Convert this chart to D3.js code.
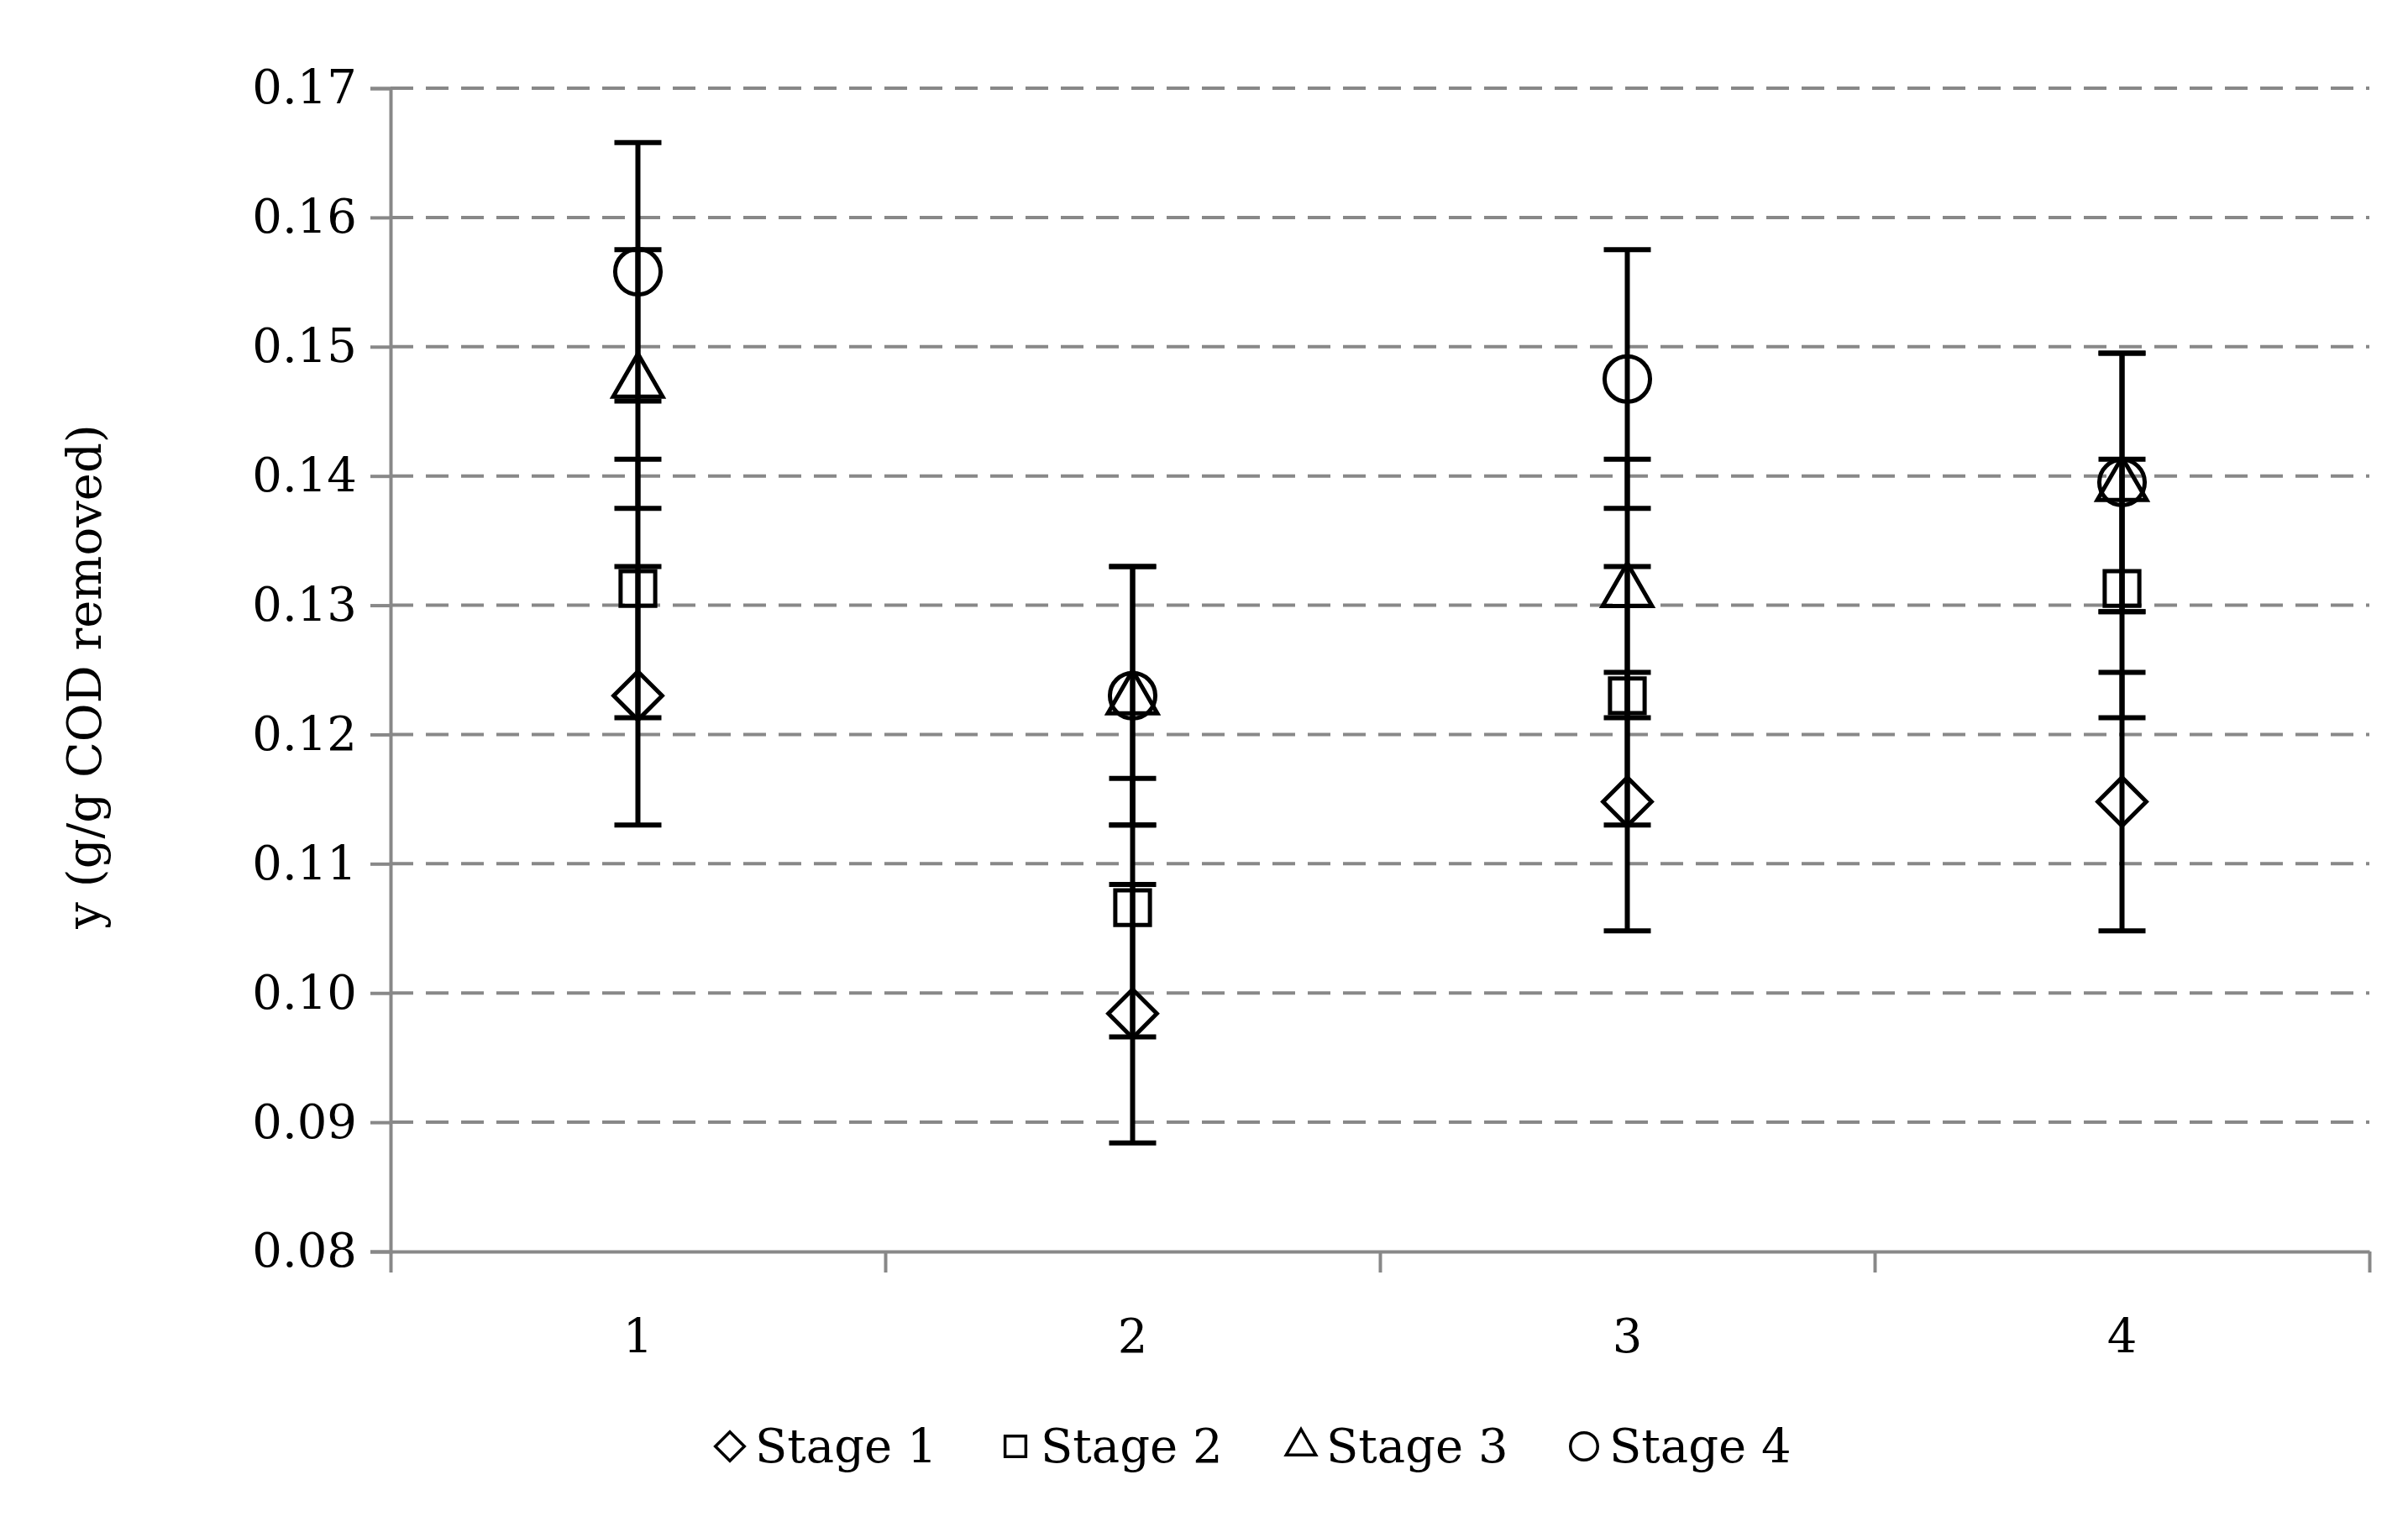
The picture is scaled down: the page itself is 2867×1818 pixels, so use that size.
<!DOCTYPE html>
<html><head><meta charset="utf-8">
<script src="https://cdn.jsdelivr.net/npm/d3@7"></script>
<style>body{margin:0;background:#fff}</style></head>
<body><svg id="c" width="2867" height="1818"></svg>
<script>
const categories = [1, 2, 3, 4];
const seriesNames = ["Stage 1", "Stage 2", "Stage 3", "Stage 4"];
const stage1 = [0.1230, 0.0984, 0.1148, 0.1148];
const stage2 = [0.1313, 0.1066, 0.1230, 0.1313];
const stage3 = [0.1475, 0.1230, 0.1313, 0.1395];
const stage4 = [0.1558, 0.1230, 0.1475, 0.1395];
const errorBar = 0.01;
const yTicks = [0.08, 0.09, 0.10, 0.11, 0.12, 0.13, 0.14, 0.15, 0.16, 0.17];
const yTitle = "y (g/g COD removed)";

const series = [stage1, stage2, stage3, stage4];
const symbols = [d3.symbolDiamond, d3.symbolSquare, d3.symbolTriangle, d3.symbolCircle];
const svg = d3.select("#c");
const font = "'DejaVu Serif',serif";
const FS = 56;
const L = 465, R = 2821, T = 105, B = 1490;
const x = d3.scaleLinear().domain([0.5, 4.5]).range([L, R]);
const y = d3.scaleLinear().domain([0.08, 0.17]).range([B, T]);

svg.append("g").selectAll("line").data(yTicks.slice(1)).join("line")
  .attr("x1", L).attr("x2", R).attr("y1", d => y(d)).attr("y2", d => y(d))
  .attr("stroke", "#888").attr("stroke-width", 4).attr("stroke-dasharray", "27,15");

const ya = svg.append("g").attr("transform", `translate(${L},0)`)
  .call(d3.axisLeft(y).tickValues(yTicks).tickFormat(d3.format(".2f")).tickSize(24).tickPadding(16));
ya.select(".domain").attr("stroke", "#888").attr("stroke-width", 4);
ya.selectAll(".tick line").attr("stroke", "#888").attr("stroke-width", 4);
ya.selectAll("text").attr("font-family", font).attr("font-size", FS).attr("fill", "#000");

const xa = svg.append("g").attr("transform", `translate(0,${B})`)
  .call(d3.axisBottom(x).tickValues([0.5, 1.5, 2.5, 3.5, 4.5]).tickFormat("").tickSize(25).tickSizeOuter(0));
xa.select(".domain").attr("stroke", "#888").attr("stroke-width", 4);
xa.selectAll(".tick line").attr("stroke", "#888").attr("stroke-width", 4);
svg.append("g").selectAll("text").data(categories).join("text")
  .attr("x", d => x(d)).attr("y", 1610).attr("text-anchor", "middle")
  .attr("font-family", font).attr("font-size", FS).text(d => d);

svg.append("text").attr("transform", `translate(120,${(T + B) / 2 + 8}) rotate(-90)`)
  .attr("text-anchor", "middle").attr("font-family", font).attr("font-size", FS).text(yTitle);

series.forEach((vals) => {
  const g = svg.append("g");
  vals.forEach((v, i) => {
    const cx = x(categories[i]);
    g.append("line").attr("x1", cx).attr("x2", cx).attr("y1", y(v - errorBar)).attr("y2", y(v + errorBar))
      .attr("stroke", "#000").attr("stroke-width", 6);
    [v - errorBar, v + errorBar].forEach(e => g.append("line")
      .attr("x1", cx - 28).attr("x2", cx + 28).attr("y1", y(e)).attr("y2", y(e))
      .attr("stroke", "#000").attr("stroke-width", 6));
  });
});

const sizes = [1750, 1700, 1500, 2300];
function symPath(k, s) {
  if (k === 0) { const r = Math.sqrt(s) / 1.45; return `M0,${-r}L${r},0L0,${r}L${-r},0Z`; }
  return d3.symbol().type(symbols[k]).size(s)();
}
series.forEach((vals, k) => {
  svg.append("g").selectAll("path").data(vals).join("path")
    .attr("transform", (d, i) => `translate(${x(categories[i])},${y(d) + (k === 2 ? 4 : 0)})`)
    .attr("d", symPath(k, sizes[k]))
    .attr("fill", "none").attr("stroke", "#000").attr("stroke-width", 5);
});

const legX = [869, 1209, 1549, 1886];
const lg = svg.append("g");
seriesNames.forEach((n, k) => {
  lg.append("path").attr("transform", `translate(${legX[k]},1722)`)
    .attr("d", symPath(k, sizes[k] * 0.36)).attr("fill", "none").attr("stroke", "#000").attr("stroke-width", 3.5);
  lg.append("text").attr("x", legX[k] + 30).attr("y", 1741).attr("font-family", font)
    .attr("font-size", FS).text(n);
});
</script></body></html>
